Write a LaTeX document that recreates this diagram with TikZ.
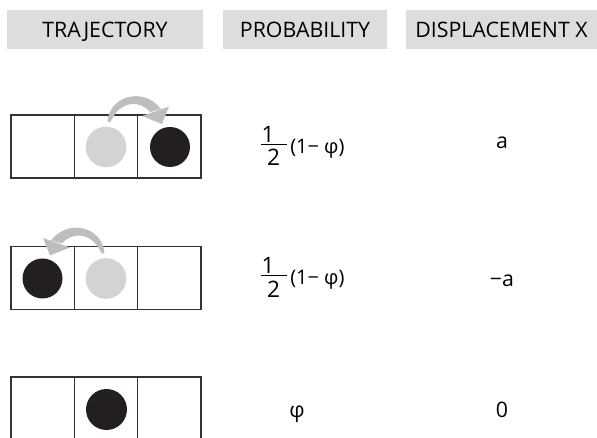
\documentclass[tikz,border=0pt]{standalone}
\usepackage{fontspec}
\setmainfont{Open Sans}
\definecolor{hdrgray}{HTML}{DCDDDE}
\definecolor{ballgray}{HTML}{D1D3D4}
\definecolor{ballblack}{HTML}{231F20}
\definecolor{arrowgray}{HTML}{BCBEC0}
\definecolor{linegray}{HTML}{333333}
\tikzset{
  hdr/.style={fill=hdrgray, draw=none},
  hdrtext/.style={font=\fontsize{16}{18}\selectfont, text=black, inner sep=0pt, anchor=base},
  cell/.style={draw=linegray, line width=1pt},
  ballg/.style={fill=ballgray, draw=none},
  ballb/.style={fill=ballblack, draw=none},
  arr/.style={fill=arrowgray, draw=none},
  valtext/.style={font=\fontsize{16}{18}\selectfont, anchor=base, inner sep=0pt},
  ptext/.style={font=\fontsize{15}{17}\selectfont, anchor=base, inner sep=0pt},
  fractext/.style={font=\fontsize{17}{19}\selectfont, anchor=base, inner sep=0pt},
}
\begin{document}
\begin{tikzpicture}[x=0.75pt,y=-0.75pt]
\useasboundingbox (0,0) rectangle (597,438);
\clip (0,0) rectangle (597,438);
% headers
\fill[hdr] (7,10) rectangle (203,49);
\fill[hdr] (223,10) rectangle (387,49);
\fill[hdr] (406,10) rectangle (597,49);
\node[hdrtext] (h1) at (105,37.5) {TRAJECTORY};
\node[hdrtext] (h2) at (305,37.5) {PROBABILITY};
\node[hdrtext] (h3) at (501.5,37.5) {DISPLACEMENT X};
% row 1
\begin{scope}[shift={(0,115)}]
  \draw[cell] (11,0) rectangle (201,63);
  \draw[cell] (74.3,0) -- (74.3,63);
  \draw[cell] (137.7,0) -- (137.7,63);
  \fill[ballg] (106,32) circle (20.3);
  \fill[ballb] (170,32) circle (20);
\end{scope}
\fill[arr] (107.5,122) .. controls (109,96) and (143,86) .. (161,109)
   -- (150,112) .. controls (140,100) and (120,100) .. (110.5,122) -- cycle;
\fill[arr] (169,106.5) -- (162,124) -- (142,116) -- cycle;
% row 2
\begin{scope}[shift={(0,246.5)}]
  \draw[cell] (11,0) rectangle (201,63);
  \draw[cell] (74.3,0) -- (74.3,63);
  \draw[cell] (137.7,0) -- (137.7,63);
  \fill[ballb] (42.5,32) circle (20);
  \fill[ballg] (106,32) circle (20.3);
\end{scope}
\begin{scope}[shift={(212,131.5)}, xscale=-1]
\fill[arr] (107.5,122) .. controls (109,96) and (143,86) .. (161,109)
   -- (150,112) .. controls (140,100) and (120,100) .. (110.5,122) -- cycle;
\fill[arr] (169,106.5) -- (162,124) -- (142,116) -- cycle;
\end{scope}
% row 3
\begin{scope}[shift={(0,377)}]
  \draw[cell] (11,70) -- (11,0) -- (201,0) -- (201,70);
  \draw[cell] (74.3,0) -- (74.3,70);
  \draw[cell] (137.7,0) -- (137.7,70);
  \fill[ballb] (106.5,32.5) circle (20.5);
\end{scope}
% probabilities
\node[fractext] (n1) at (268,142.5) {1};
\draw[line width=1pt] (261,144.3) -- (287,144.3);
\node[fractext] (d1) at (273.5,166) {2};
\node[ptext, anchor=base west] (p1) at (290,153.3) {(1− φ)};
\node[fractext] (n2) at (268,274) {1};
\draw[line width=1pt] (261,275.8) -- (287,275.8);
\node[fractext] (d2) at (273.5,297.5) {2};
\node[ptext, anchor=base west] (p2) at (290,284.8) {(1− φ)};
\node[valtext] (p3) at (297,418) {φ};
% displacements
\node[valtext] (v1) at (502,149) {a};
\node[valtext] (v2) at (502,287) {−a};
\node[valtext] (v3) at (502,418) {0};
\end{tikzpicture}
\end{document}
